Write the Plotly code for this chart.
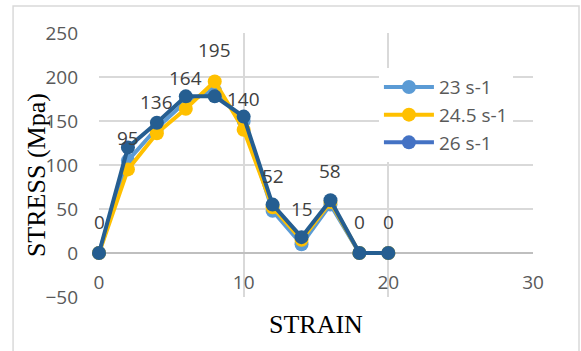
import plotly.graph_objects as go

strain = [0, 2, 4, 6, 8, 10, 12, 14, 16, 18, 20]
stress_23 = [0, 105, 142, 172, 185, 150, 48, 10, 55, 0, 0]
stress_245 = [0, 95, 136, 164, 195, 140, 52, 15, 58, 0, 0]
stress_26 = [0, 120, 148, 178, 178, 155, 55, 18, 60, 0, 0]
series_names = ["23 s-1", "24.5 s-1", "26 s-1"]
line_colors = ["#5B9BD5", "#FFC000", "#255E91"]
legend_colors = ["#5B9BD5", "#FFC000", "#4472C4"]

tick_font = dict(family="Open Sans", size=19, color="#595959")
serif = dict(family="Liberation Serif", size=26, color="#000000")

fig = go.Figure()
for name, ys, lc in zip(series_names, [stress_23, stress_245, stress_26], line_colors):
    fig.add_trace(go.Scatter(x=strain, y=ys, mode="lines+markers", name=name,
                             line=dict(color=lc, width=4),
                             marker=dict(color=lc, size=14),
                             showlegend=False, cliponaxis=False))
for name, lc in zip(series_names, legend_colors):
    fig.add_trace(go.Scatter(x=[None], y=[None], mode="lines+markers", name=name,
                             line=dict(color=lc, width=4),
                             marker=dict(color=lc, size=14)))

for xv, yv in zip(strain, stress_245):
    fig.add_annotation(x=xv, y=yv, text=str(yv), showarrow=False, yshift=31,
                       font=dict(family="Open Sans", size=19, color="#404040"))

fig.add_annotation(xref="paper", yref="paper", x=0.5, y=-0.106, text="STRAIN",
                   showarrow=False, font=serif, yanchor="middle")
fig.add_annotation(xref="paper", yref="paper", x=-0.145, y=0.462, text="STRESS (Mpa)",
                   showarrow=False, font=serif, textangle=-90, xanchor="center", yanchor="middle")

fig.add_shape(type="rect", xref="paper", yref="paper", x0=-0.198, x1=1.106, y0=-0.3, y1=1.102,
              line=dict(color="#D9D9D9", width=1.5), fillcolor="rgba(0,0,0,0)", layer="below")

fig.update_layout(
    width=581, height=351,
    margin=dict(l=99, r=48, t=33, b=54),
    paper_bgcolor="white", plot_bgcolor="white",
    xaxis=dict(range=[0, 30], dtick=10, showgrid=True, gridcolor="#D9D9D9", gridwidth=1.5,
               zeroline=False, showline=False, anchor="free", position=1/6,
               tickfont=tick_font, ticklabelstandoff=16, automargin=False),
    yaxis=dict(range=[-50, 250], dtick=50, showgrid=True, gridcolor="#D9D9D9", gridwidth=1.5,
               zeroline=True, zerolinecolor="#BFBFBF", zerolinewidth=1.5,
               showline=False, tickfont=tick_font, ticklabelstandoff=20, automargin=False),
    legend=dict(x=0.645, y=0.867, xanchor="left", yanchor="top", bgcolor="white",
                font=dict(family="Open Sans", size=19, color="#595959"),
                itemwidth=50, tracegroupgap=0),
    showlegend=True,
)

fig.write_html("out.html", config={"displayModeBar": False},
               post_script="document.body.style.margin='0';document.body.style.overflow='hidden';")
